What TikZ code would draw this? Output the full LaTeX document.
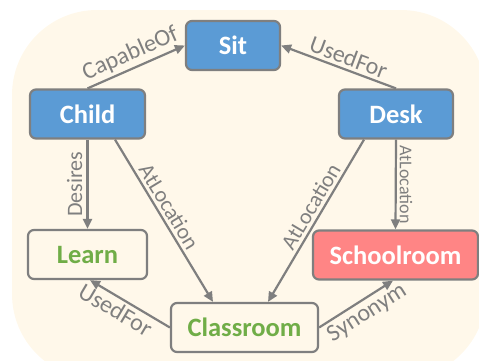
\documentclass[tikz,border=0pt]{standalone}
\usepackage{fontspec}
\setmainfont{Carlito}
\usetikzlibrary{arrows.meta}
\definecolor{bgc}{HTML}{FFF8EA}
\definecolor{bordc}{HTML}{7F7F7F}
\definecolor{bluec}{HTML}{5B9BD5}
\definecolor{redc}{HTML}{FF8585}
\definecolor{greenc}{HTML}{70AD47}
\tikzset{
  box/.style={draw=bordc, line width=2.2pt, rounded corners=6pt, minimum height=49pt, inner sep=0pt,
    font=\fontsize{26.5}{30}\selectfont\bfseries},
  bluebox/.style={box, fill=bluec, text=white},
  redbox/.style={box, fill=redc, text=white},
  greenbox/.style={box, fill=bgc, text=greenc},
  rel/.style={draw=bordc, line width=2.2pt, -{Triangle[length=10pt,width=9pt]}},
  lab/.style={text=bordc, font=\fontsize{24}{28}\selectfont, inner sep=3pt},
}
\begin{document}
\begin{tikzpicture}[x=1pt,y=-1pt]
\useasboundingbox (0,0) rectangle (479,360);
\clip (0,0) rectangle (479,360);
\fill[bgc, rounded corners=85pt] (12,10) rectangle (486,379);

\node[bluebox, minimum width=94pt] (sit) at (233,45.5) {Sit};
\node[bluebox, minimum width=115pt] (child) at (87.5,114) {Child};
\node[bluebox, minimum width=114pt] (desk) at (396,114) {Desk};
\node[greenbox, minimum width=119pt] (learn) at (87.5,254.5) {Learn};
\node[greenbox, minimum width=147pt] (classroom) at (244.5,327.5) {Classroom};
\node[redbox, minimum width=165pt] (school) at (395.5,255) {Schoolroom};

\draw[rel] (child.north) -- node[lab, sloped, above, pos=0.5] {CapableOf} (sit.west);
\draw[rel] (desk.north) -- node[lab, sloped, above, pos=0.45] {UsedFor} (sit.east);
\draw[rel] (child.south) -- node[lab, midway, rotate=90, anchor=south, font=\fontsize{22}{26}\selectfont, inner sep=4pt] {Desires} (learn.north);
\draw[rel] ([xshift=27.5pt]child.south) -- node[lab, sloped, above, pos=0.45, font=\fontsize{22}{26}\selectfont] {AtLocation} ([xshift=-31.5pt]classroom.north);
\draw[rel] ([xshift=-32pt]desk.south) -- node[lab, sloped, above, pos=0.45, font=\fontsize{22}{26}\selectfont] {AtLocation} ([xshift=23.5pt]classroom.north);
\draw[rel] (desk.south) -- node[lab, midway, rotate=-90, anchor=south, font=\fontsize{18}{22}\selectfont, inner sep=3pt] {AtLocation} (school.north);
\draw[rel] (classroom.west) -- node[lab, sloped, below, pos=0.6] {UsedFor} ([xshift=2.5pt]learn.south);
\draw[rel] (classroom.east) -- node[lab, sloped, below, pos=0.55] {Synonym} ([xshift=-2.5pt]school.south);
\end{tikzpicture}
\end{document}
